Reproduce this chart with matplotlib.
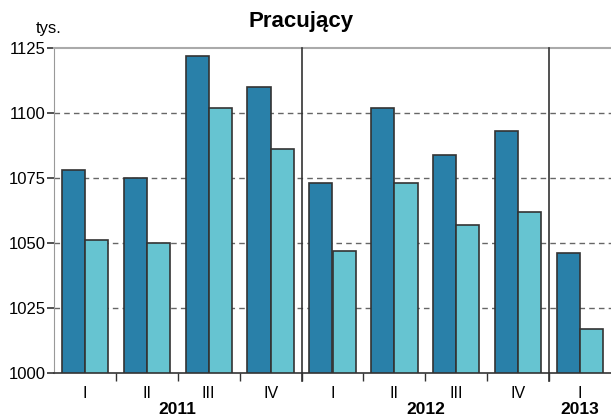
import numpy as np
import matplotlib
matplotlib.use('Agg')
from matplotlib import pyplot as plt

plt.rcParams['font.family'] = ['Liberation Sans', 'DejaVu Sans']

quarters = ['I', 'II', 'III', 'IV', 'I', 'II', 'III', 'IV', 'I']
years = ['2011', '2012', '2013']
year_centers = [1.5, 5.5, 8.0]
dark_vals = [1078, 1075, 1122, 1110, 1073, 1102, 1084, 1093, 1046]
light_vals = [1051, 1050, 1102, 1086, 1047, 1073, 1057, 1062, 1017]

fig = plt.figure(figsize=(6.11, 4.17), dpi=100)
ax = fig.add_axes([54 / 611, 1 - 373 / 417, 557 / 611, 325 / 417])

x = np.arange(len(quarters))
w = 0.375
ax.bar(x - w / 2, np.array(dark_vals) - 1000, w, bottom=1000, color='#2980a9',
       edgecolor='#333333', linewidth=1.2, zorder=3)
ax.bar(x + w / 2, np.array(light_vals) - 1000, w, bottom=1000, color='#66c4d1',
       edgecolor='#333333', linewidth=1.2, zorder=3)

ax.set_xlim(-0.5, 8.5)
ax.set_ylim(1000, 1125)
ax.set_yticks([1000, 1025, 1050, 1075, 1100, 1125])
for v in [1025, 1050, 1075, 1100]:
    ax.axhline(v, color='#666666', linestyle=(0, (4, 3)), linewidth=1, zorder=1)

ax.spines['right'].set_visible(False)
ax.spines['top'].set_color('#aaaaaa')
ax.spines['top'].set_linewidth(1.5)
ax.spines['left'].set_color('#999999')
ax.spines['bottom'].set_color('#333333')
ax.spines['bottom'].set_linewidth(1.2)

ax.tick_params(axis='y', labelsize=12, length=5, width=1.2, color='#333333', pad=1)
ax.set_xticks(x)
ax.set_xticklabels(quarters, fontsize=11.5)
ax.tick_params(axis='x', length=0, pad=9)
ax.set_xticks(np.arange(0.5, 8, 1), minor=True)
ax.tick_params(axis='x', which='minor', length=6, width=1, color='#333333', direction='out')

for b in [3.5, 7.5]:
    ax.plot([b, b], [1125, 1000], color='#333333', linewidth=1.2, zorder=4, clip_on=False)
    ax.plot([b, b], [1000, 997], color='#333333', linewidth=1.2, zorder=4, clip_on=False)

for yr, c in zip(years, year_centers):
    ax.text(c, -(409 - 373) / 325, yr, transform=ax.get_xaxis_transform(), ha='center',
            va='center', fontsize=12.5, fontweight='bold')

fig.text(301 / 611, 1 - 22 / 417, 'Pracujący', ha='center', va='center',
         fontsize=16, fontweight='bold')
fig.text(49 / 611, 1 - 28 / 417, 'tys.', ha='center', va='center', fontsize=12)

plt.savefig('out.png', dpi=100)
